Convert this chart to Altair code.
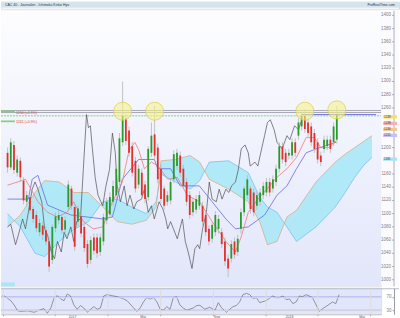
import altair as alt
import pandas as pd

# ---------------- candles (index, open, close, high, low) ----------------
c_open = [1192,1170,1204,1162,1180,1150,1118,1125,1107,1098,1072,1082,1075,1058,1030,1078,1090,1095,1076,1110,
          1138,1110,1088,1096,1080,1054,1030,1064,1064,1042,1058,1090,1099,1118,1128,1148,1208,1244,1226,1202,
          1180,1144,1162,1144,1125,1192,1220,1200,1168,1138,1118,1120,1152,1172,1188,1168,1148,1128,1102,1106,
          1112,1112,1098,1077,1062,1072,1077,1072,1058,1032,1032,1058,1042,1077,1102,1128,1138,1132,1112,1118,
          1128,1132,1148,1138,1148,1168,1202,1192,1188,1188,1208,1218,1232,1248,1238,1232,1222,1208,1188,1198,
          1202,1212,1208,1212]
c_close = [1170,1208,1166,1182,1155,1120,1128,1105,1092,1078,1086,1068,1058,1020,1080,1096,1098,1075,1090,1144,
           1112,1050,1108,1070,1048,1024,1060,1044,1040,1064,1095,1118,1125,1142,1168,1214,1248,1210,1192,1162,
           1138,1168,1128,1122,1198,1218,1188,1152,1122,1112,1128,1148,1190,1192,1162,1142,1118,1098,1118,1122,
           1128,1088,1072,1058,1083,1098,1092,1054,1028,1017,1054,1038,1062,1102,1138,1152,1107,1102,1128,1132,
           1142,1148,1132,1152,1168,1202,1182,1178,1192,1208,1192,1238,1248,1228,1222,1208,1198,1182,1178,1212,
           1212,1198,1232,1250]
c_high = [1200,1214,1210,1188,1185,1155,1134,1130,1111,1104,1092,1088,1081,1064,1084,1102,1105,1100,1096,1150,
          1142,1114,1112,1102,1084,1060,1066,1070,1070,1070,1100,1124,1132,1150,1174,1222,1300,1250,1232,1208,
          1186,1174,1168,1150,1202,1238,1263,1206,1174,1142,1134,1154,1196,1198,1194,1174,1154,1134,1124,1128,
          1134,1118,1104,1082,1088,1104,1098,1078,1064,1038,1060,1064,1068,1108,1142,1158,1142,1138,1134,1138,
          1148,1154,1154,1158,1174,1208,1208,1198,1198,1214,1214,1244,1254,1258,1244,1238,1228,1214,1194,1218,
          1218,1218,1238,1263]
c_low = [1162,1166,1160,1156,1148,1114,1112,1100,1086,1072,1066,1060,1052,1012,1024,1072,1084,1070,1070,1105,
         1106,1044,1082,1064,1042,1018,1024,1038,1033,1036,1052,1084,1094,1112,1122,1142,1202,1204,1186,1156,
         1132,1138,1122,1116,1120,1186,1182,1146,1116,1106,1112,1114,1146,1166,1156,1138,1112,1092,1096,1100,
         1106,1082,1066,1052,1056,1066,1070,1048,1021,1004,1026,1032,1036,1070,1096,1122,1100,1096,1106,1112,
         1122,1126,1126,1132,1142,1162,1176,1172,1182,1182,1186,1212,1226,1222,1216,1202,1192,1176,1172,1192,
         1196,1192,1202,1206]

# ---------------- Ichimoku lines (bar index, level) ----------------
tenkan_idx = [0,5.6,9.5,12.5,15.6,18.6,20.7,23.7,26.8,29.8,32.8,35.9,38,39.8,41,42.8,45,47.1,50.1,53.1,56.2,60.1,
              64,68.3,71.3,73.1,75.3,78.3,81.3,84.3,87.4,90.4,93.4,95.9,98,100.4,102.8]
tenkan_val = [1143,1152,1118,1102,1095,1102,1118,1088,1077,1080,1118,1148,1196,1208,1197,1168,1178,1172,1152,1155,
              1128,1118,1088,1058,1042,1065,1102,1122,1138,1155,1168,1185,1215,1215,1200,1200,1210]
kijun_idx = [0,6.5,7.7,9.5,12.5,19.8,29.8,32.8,35.9,41,45.9,47,51,54,60,64,68.3,71.3,75.3,80.4,84.3,87.4,90.4,
             93.4,96.5,102.8]
kijun_val = [1122,1122,1152,1158,1113,1098,1092,1095,1152,1182,1182,1168,1168,1142,1142,1118,1092,1077,1080,1098,
             1128,1142,1168,1192,1198,1208]
chikou_idx = [0,1.0,2.5,3.4,4.7,5.6,6.5,7.7,8.6,9.5,10.7,11.6,12.5,13.7,14.7,15.6,16.8,17.7,18.6,19.8,20.7,21.6,
              22.8,23.7,24.7,25.3,25.9,26.5,27.4,28.3,29.2,29.8,30.7,31.9,32.8,33.7,34.3,35.3,36.5,37.4,38.3,39.5,
              40.4,41.9,42.8,44.0,45.0,45.9,47.4,48.6,49.5,50.1,51.0,51.9,53.1,54.7,55.6,56.5,57.7,58.6,59.5,60.1,
              61.0,62.2,63.1,64.0,65.3,66.2,67.1,68.3,69.2,70.1,71.3,72.2,73.1,74.3,75.3,75.9,77.4,78.3,79.2,80.4,
              81.3,82.2,83.4,84.3,85.9,87.4,88.3,89.8,91.0,91.9]
chikou_val = [1080,1084,1053,1068,1092,1077,1102,1137,1148,1137,1118,1077,1068,1042,1032,1058,1042,1072,1062,1080,
              1058,1088,1092,1167,1250,1230,1233,1200,1155,1128,1118,1112,1140,1167,1222,1192,1142,1118,1142,1112,
              1128,1107,1118,1122,1137,1102,1112,1092,1118,1107,1092,1077,1088,1077,1062,1092,1058,1042,1017,1047,
              1053,1047,1077,1102,1148,1122,1118,1137,1122,1137,1132,1142,1148,1167,1198,1204,1192,1172,1178,1172,
              1192,1218,1238,1242,1227,1208,1198,1218,1212,1233,1227,1240]
cloud_idx = [0,4.0,8.6,11.6,16.2,20.7,25.3,29.8,34.3,38.9,43.4,46.5,48.0,52.5,57.1,60.1,63.1,69.2,75.3,78.9,81.3,
             84.3,87.4,90.4,96.5,102.5,105.6,108.6,111.6,114.0]
span_a = [1100,1080,1040,1035,1058,1076,1088,1118,1122,1110,1100,1118,1160,1148,1137,1150,1178,1180,1162,1125,
          1110,1102,1080,1058,1080,1110,1132,1155,1174,1185]
span_b = [1080,1098,1132,1150,1148,1132,1132,1110,1088,1084,1090,1110,1180,1182,1188,1178,1152,1137,1118,1088,
          1053,1058,1095,1105,1148,1178,1190,1200,1210,1218]

# horizontal levels, marked highs and resistance line
levels = [1256, 1253]
signal_level = 1248
res_idx = [92, 115.3]
res_val = [1250, 1250]
circle_idx = [36, 46, 93, 103]
circle_val = [1255, 1255, 1255, 1257]

# price-axis labels (those hidden under the value tags are left out)
axis_vals = [1000, 1020, 1040, 1060, 1080, 1100, 1120, 1140, 1160, 1200, 1260, 1280, 1300, 1320, 1340,
             1360, 1380, 1400]

# right-axis value tags
tag_val = [1249, 1239, 1230, 1221, 1185]
tag_fill = ["#f3df6a", "#f6b0b0", "#f0c896", "#c2c2f4", "#a9e2f6"]

# RSI-type oscillator (bar index, value)
rsi_idx = [0,0.5,2.5,3.5,4.6,5.6,7.6,9.6,10.6,12.6,13.6,14.7,15.7,16.7,17.7,18.7,19.7,20.7,21.7,22.7,23.7,24.7,
           25.8,26.8,27.8,28.8,29.8,30.8,31.8,33.8,34.9,36.9,37.9,39.9,40.9,41.9,42.9,43.9,45.0,46.0,47.0,48.0,
           49.0,50.0,51.0,52.0,53.0,54.0,55.0,56.1,58.1,59.1,60.1,61.6,63.1,64.7,65.7,66.7,68.2,69.2,70.2,71.2,
           72.2,73.2,74.3,75.3,76.3,77.3,78.3,80.3,82.3,83.3,84.3,85.4,86.4,87.4,88.4,89.4,90.4,91.4,92.4,93.4,
           94.4,95.5,96.5,97.5,98.5,100.5,101.5,102.5]
rsi_val = [74,73,59,46,28,26,28,24,28,35,21,37,68,74,64,59,79,73,46,33,44,37,24,33,41,33,37,73,77,73,71,64,59,37,
           26,37,55,68,64,68,55,33,30,41,33,68,71,46,37,30,37,44,45,33,39,30,53,37,24,33,41,44,55,77,81,77,65,68,
           53,59,73,68,68,73,62,64,50,55,73,71,77,73,68,46,26,35,41,55,50,77]

# x-axis labels
xlab_idx = [21.3, 42.8, 65.3, 87.4, 109.5]
xlab_txt = ["2017", "Mai", "Sep", "2018", "Mai"]

header_left = "CAC 40 - Journalier - Ichimoku Kinko Hyo"
header_right = "ProRealTime.com"

candles = pd.DataFrame({"i": list(range(len(c_open))), "open": c_open, "close": c_close,
                        "high": c_high, "low": c_low})
candles["dir"] = ["up" if c >= o else "down" for o, c in zip(c_open, c_close)]
tenkan = pd.DataFrame({"i": tenkan_idx, "v": tenkan_val})
kijun = pd.DataFrame({"i": kijun_idx, "v": kijun_val})
chikou = pd.DataFrame({"i": chikou_idx, "v": chikou_val})
cloud = pd.DataFrame({"i": cloud_idx, "a": span_a, "b": span_b})
circ = pd.DataFrame({"i": circle_idx, "v": circle_val})
rsi = pd.DataFrame({"i": rsi_idx, "v": rsi_val})
res = pd.DataFrame({"i": res_idx, "v": res_val})
tags = pd.DataFrame({"v": tag_val, "f": tag_fill})
axdf = pd.DataFrame({"v": axis_vals})

W = 382
H = 277
RH = 26
FONT = "Liberation Sans"
xs = alt.Scale(domain=[-0.5, 115.3], nice=False, zero=False)
ys = alt.Scale(domain=[990, 1407], nice=False, zero=False)
X = alt.X("i:Q", scale=xs, axis=None)


def Y(field):
    return alt.Y(field, scale=ys, axis=None)


one = pd.DataFrame({"k": [0]})

bg = alt.Chart(one).mark_rect(
    color=alt.Gradient(gradient="linear",
                       stops=[alt.GradientStop(color="#fdfdff", offset=0),
                              alt.GradientStop(color="#e2e6fa", offset=1)],
                       x1=0, x2=0, y1=0, y2=1)
).encode(x=alt.value(0), x2=alt.value(W), y=alt.value(0), y2=alt.value(H))
axis_bg = alt.Chart(one).mark_rect(color="#fbfbfe").encode(
    x=alt.value(W), x2=alt.value(400), y=alt.value(0), y2=alt.value(H))

# price scale drawn at the right edge: labels, ticks and the scale line
ax_line = alt.Chart(one).mark_rule(color="#9a9aa6", strokeWidth=0.8).encode(
    x=alt.value(395), y=alt.value(0), y2=alt.value(H))
ax_ticks = alt.Chart(axdf).mark_rule(color="#9a9aa6", strokeWidth=0.8).encode(
    x=alt.value(393), x2=alt.value(395), y=Y("v:Q"))
ax_labels = alt.Chart(axdf).mark_text(fontSize=4.5, color="#7d7d8c", align="right", baseline="middle",
                                      font=FONT).encode(
    x=alt.value(392), y=Y("v:Q"), text=alt.Text("v:Q", format="d"))

cloud_area = alt.Chart(cloud).mark_area(color="#ade8f8", opacity=0.95).encode(
    x=X, y=Y("a:Q"), y2="b:Q")
line_a = alt.Chart(cloud).mark_line(color="#7fc0ec", strokeWidth=0.8).encode(x=X, y=Y("a:Q"))
line_b = alt.Chart(cloud).mark_line(color="#d6b088", strokeWidth=0.8).encode(x=X, y=Y("b:Q"))

lev_rules = alt.Chart(pd.DataFrame({"v": levels})).mark_rule(color="#a6a6b2", strokeWidth=1).encode(
    y=Y("v:Q"), x=alt.value(0), x2=alt.value(W))
sig_rule = alt.Chart(pd.DataFrame({"v": [signal_level]})).mark_rule(
    color="#6cbf6c", strokeWidth=0.8, strokeDash=[2, 1]).encode(
    y=Y("v:Q"), x=alt.value(0), x2=alt.value(W))
res_line = alt.Chart(res).mark_line(color="#7878e0", strokeWidth=1).encode(x=X, y=Y("v:Q"))

chik = alt.Chart(chikou).mark_line(color="#505050", strokeWidth=0.7).encode(x=X, y=Y("v:Q"))
kij = alt.Chart(kijun).mark_line(color="#6a6ae6", strokeWidth=0.8).encode(x=X, y=Y("v:Q"))
ten = alt.Chart(tenkan).mark_line(color="#f07a7a", strokeWidth=0.8).encode(x=X, y=Y("v:Q"))

wicks = alt.Chart(candles).mark_rule(color="#b4b4b4", strokeWidth=0.8).encode(
    x=X, y=Y("low:Q"), y2="high:Q")
bodies = alt.Chart(candles).mark_bar(size=1.8).encode(
    x=X, y=Y("open:Q"), y2="close:Q",
    color=alt.Color("dir:N", scale=alt.Scale(domain=["up", "down"], range=["#2a9a2a", "#e4302a"]), legend=None))

circles = alt.Chart(circ).mark_point(filled=True, size=330, fill="#f7f28a", fillOpacity=0.6,
                                      stroke="#d8cf40", strokeWidth=0.8, strokeOpacity=0.9).encode(
    x=X, y=Y("v:Q"))

# small labels on the left of the levels
left_tags = alt.Chart(pd.DataFrame({"v": [1256, 1241]})).mark_rect(color="#7ed27e").encode(
    x=alt.value(0), x2=alt.value(14), y=Y("v:Q"), y2=alt.Y2("v2:Q")
).transform_calculate(v2="datum.v - 2.6")
left_txt = alt.Chart(pd.DataFrame({"v": [1256, 1241], "t": ["1256 (+2.1%)", "1241 (+0.9%)"]})).mark_text(
    fontSize=3.5, color="#d04040", align="left", baseline="top", font=FONT, dx=1).encode(
    x=alt.value(14), y=Y("v:Q"), text="t:N")

tag_rects = alt.Chart(tags).mark_rect().encode(
    x=alt.value(384), x2=alt.value(398), y=Y("v:Q"), y2=alt.Y2("v2:Q"),
    color=alt.Color("f:N", scale=None)).transform_calculate(v2="datum.v - 5")
tag_txt = alt.Chart(tags).mark_text(fontSize=3, color="#333333", align="left", baseline="middle",
                                    font=FONT, dy=1.6).encode(
    x=alt.value(385), y=Y("v:Q"), text=alt.Text("v:Q", format="d"))

# label box of the lower panel (sits on the bottom edge of the main panel)
rsi_box = alt.Chart(one).mark_rect(color="#a9e6f6").encode(
    x=alt.value(0), x2=alt.value(14), y=alt.value(H - 4), y2=alt.value(H))

main = alt.layer(bg, axis_bg, ax_line, ax_ticks, ax_labels, cloud_area, line_a, line_b, lev_rules, sig_rule,
                 res_line, chik, kij, ten, wicks, bodies, circles, left_tags, left_txt, tag_rects, tag_txt,
                 rsi_box).properties(width=W, height=H)

header = alt.layer(
    alt.Chart(one).mark_rect(color="#d5e3ed").encode(
        x=alt.value(0), x2=alt.value(400), y=alt.value(0), y2=alt.value(6)),
    alt.Chart(pd.DataFrame({"t": [header_left]})).mark_text(
        fontSize=3.5, color="#2e3a48", align="left", baseline="middle", font=FONT).encode(
        x=alt.value(4), y=alt.value(3), text="t:N"),
    alt.Chart(pd.DataFrame({"t": [header_right]})).mark_text(
        fontSize=3.5, color="#2e3a48", align="right", baseline="middle", font=FONT).encode(
        x=alt.value(396), y=alt.value(3), text="t:N"),
).properties(width=400, height=7)

rs = alt.Scale(domain=[18, 96], nice=False, zero=False)
rsi_bg = alt.Chart(one).mark_rect(color="#e2e6fa").encode(
    x=alt.value(0), x2=alt.value(W), y=alt.value(0.5), y2=alt.value(RH))
rsi_top = alt.Chart(one).mark_rect(color="#b8bccc").encode(
    x=alt.value(0), x2=alt.value(400), y=alt.value(0), y2=alt.value(0.8))
rsi_rules = alt.Chart(pd.DataFrame({"v": [30, 70]})).mark_rule(color="#9ea2ee", strokeWidth=1).encode(
    y=alt.Y("v:Q", scale=rs, axis=alt.Axis(orient="left", offset=-395, values=[30, 70], labelFontSize=4.5,
                                            tickSize=2, labelColor="#7d7d8c", domain=True, zindex=2,
                                            labelOverlap=False,
                                            domainColor="#9a9aa6", tickColor="#9a9aa6", labelPadding=1,
                                            title=None, labelFont=FONT)),
    x=alt.value(0), x2=alt.value(W))
rsi_line = alt.Chart(rsi).mark_line(color="#6d6d78", strokeWidth=0.7).encode(
    x=alt.X("i:Q", scale=xs, axis=alt.Axis(orient="bottom", values=[v * 2 for v in range(0, 58)], labels=False,
                                           tickSize=1.5, tickColor="#a0a0a8", domainColor="#c8c8d0",
                                           title=None, zindex=2)),
    y=alt.Y("v:Q", scale=rs))
xlabels = alt.Chart(pd.DataFrame({"i": xlab_idx, "t": xlab_txt})).mark_text(
    fontSize=3.6, color="#555566", baseline="top", font=FONT).encode(
    x=alt.X("i:Q", scale=xs), y=alt.value(RH + 1.2), text="t:N")
rsi_panel = alt.layer(rsi_bg, rsi_rules, rsi_line, rsi_top, xlabels).properties(width=W, height=RH)

chart = alt.vconcat(header, main, rsi_panel, spacing=0).properties(padding=0).configure_view(
    stroke=None).configure(background="#ffffff")

chart.save("out.html", embed_options={"renderer": "svg", "actions": False})
